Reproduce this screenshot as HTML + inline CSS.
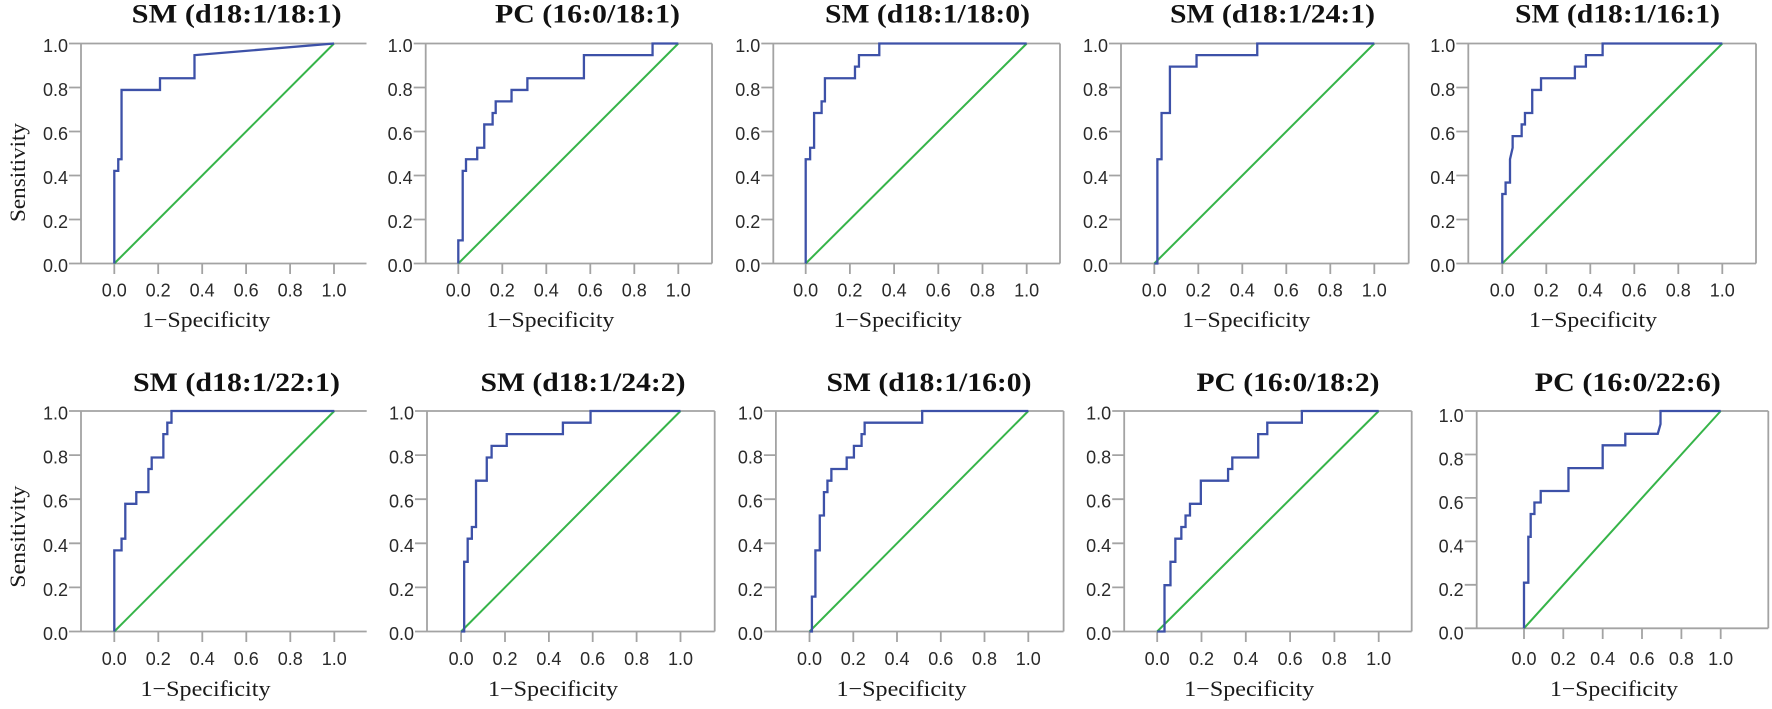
<!DOCTYPE html>
<html><head><meta charset="utf-8">
<style>
html,body{margin:0;padding:0;background:#fff;}
svg{display:block;}
.ax{stroke:#a3a3a3;stroke-width:1.8;fill:none;}
.g{stroke:#36b449;stroke-width:2;fill:none;}
.b{stroke:#3d51a8;stroke-width:2.3;fill:none;stroke-linejoin:miter;}
.yl{font-family:"Liberation Sans",Arial,sans-serif;font-size:18px;fill:#2a2a2a;text-anchor:end;}
.xl{font-family:"Liberation Sans",Arial,sans-serif;font-size:18px;fill:#2a2a2a;text-anchor:middle;}
.ti{font-family:"Liberation Serif","Times New Roman",serif;font-weight:bold;font-size:26px;fill:#111;text-anchor:middle;}
.lb{font-family:"Liberation Serif","Times New Roman",serif;font-size:22px;fill:#1a1a1a;text-anchor:middle;}
</style></head>
<body>
<svg width="1772" height="709" viewBox="0 0 1772 709" xmlns="http://www.w3.org/2000/svg">

<!-- ================= ROW 1 ================= -->
<!-- P1 -->
<g>
<path class="ax" d="M69 43.5H366.5M69 263.5H366.5M81 43.5V263.5M69 87.5H81M69 131.5H81M69 175.5H81M69 219.5H81"/>
<path class="ax" d="M114.3 264V274M158.2 264V274M202.2 264V274M246.1 264V274M290.1 264V274M334 264V274"/>
<line class="g" x1="114.3" y1="263.5" x2="334" y2="43.5"/>
<g transform="translate(114.3,263.5) scale(219.7,-220)"><polyline class="b" vector-effect="non-scaling-stroke" points="0,0 0,0.421 0.018,0.421 0.018,0.474 0.033,0.474 0.033,0.789 0.208,0.789 0.208,0.842 0.365,0.842 0.365,0.947 1,1"/></g>
<text class="yl" x="68" y="52">1.0</text><text class="yl" x="68" y="96">0.8</text><text class="yl" x="68" y="140">0.6</text><text class="yl" x="68" y="184">0.4</text><text class="yl" x="68" y="228">0.2</text><text class="yl" x="68" y="272">0.0</text>
<text class="xl" x="114.3" y="296.5">0.0</text><text class="xl" x="158.2" y="296.5">0.2</text><text class="xl" x="202.2" y="296.5">0.4</text><text class="xl" x="246.1" y="296.5">0.6</text><text class="xl" x="290.1" y="296.5">0.8</text><text class="xl" x="334" y="296.5">1.0</text>
<text class="ti" x="236.7" y="22.5" textLength="210" lengthAdjust="spacingAndGlyphs">SM (d18:1/18:1)</text>
<text class="lb" x="206.3" y="327" textLength="128" lengthAdjust="spacingAndGlyphs">1−Specificity</text>
<text class="lb" transform="translate(25,172.5) rotate(-90)" x="0" y="0" textLength="99" lengthAdjust="spacingAndGlyphs">Sensitivity</text>
</g>

<!-- P2 -->
<g>
<path class="ax" d="M413.7 43.5H712M413.7 263.5H712M425.7 43.5V263.5M712 43.5V263.5M413.7 87.5H425.7M413.7 131.5H425.7M413.7 175.5H425.7M413.7 219.5H425.7"/>
<path class="ax" d="M458.3 264V274M502.3 264V274M546.3 264V274M590.3 264V274M634.3 264V274M678.3 264V274"/>
<line class="g" x1="458.3" y1="263.5" x2="678.3" y2="43.5"/>
<g transform="translate(458.3,263.5) scale(220,-220)"><polyline class="b" vector-effect="non-scaling-stroke" points="0,0 0,0.105 0.02,0.105 0.02,0.421 0.035,0.421 0.035,0.474 0.086,0.474 0.086,0.526 0.118,0.526 0.118,0.632 0.156,0.632 0.156,0.684 0.17,0.684 0.17,0.737 0.242,0.737 0.242,0.789 0.314,0.789 0.314,0.842 0.571,0.842 0.571,0.947 0.883,0.947 0.883,1 1,1"/></g>
<text class="yl" x="412.7" y="52">1.0</text><text class="yl" x="412.7" y="96">0.8</text><text class="yl" x="412.7" y="140">0.6</text><text class="yl" x="412.7" y="184">0.4</text><text class="yl" x="412.7" y="228">0.2</text><text class="yl" x="412.7" y="272">0.0</text>
<text class="xl" x="458.3" y="296.5">0.0</text><text class="xl" x="502.3" y="296.5">0.2</text><text class="xl" x="546.3" y="296.5">0.4</text><text class="xl" x="590.3" y="296.5">0.6</text><text class="xl" x="634.3" y="296.5">0.8</text><text class="xl" x="678.3" y="296.5">1.0</text>
<text class="ti" x="587.5" y="22.5" textLength="185" lengthAdjust="spacingAndGlyphs">PC (16:0/18:1)</text>
<text class="lb" x="550.3" y="327" textLength="128" lengthAdjust="spacingAndGlyphs">1−Specificity</text>
</g>

<!-- P3 -->
<g>
<path class="ax" d="M761.3 43.5H1060M761.3 263.5H1060M773.3 43.5V263.5M1060 43.5V263.5M761.3 87.5H773.3M761.3 131.5H773.3M761.3 175.5H773.3M761.3 219.5H773.3"/>
<path class="ax" d="M805.7 264V274M849.9 264V274M894.1 264V274M938.3 264V274M982.5 264V274M1026.7 264V274"/>
<line class="g" x1="805.7" y1="263.5" x2="1026.7" y2="43.5"/>
<g transform="translate(805.7,263.5) scale(221,-220)"><polyline class="b" vector-effect="non-scaling-stroke" points="0,0 0,0.474 0.02,0.474 0.02,0.526 0.038,0.526 0.038,0.684 0.072,0.684 0.072,0.737 0.087,0.737 0.087,0.842 0.223,0.842 0.223,0.895 0.241,0.895 0.241,0.947 0.333,0.947 0.333,1 1,1"/></g>
<text class="yl" x="760.3" y="52">1.0</text><text class="yl" x="760.3" y="96">0.8</text><text class="yl" x="760.3" y="140">0.6</text><text class="yl" x="760.3" y="184">0.4</text><text class="yl" x="760.3" y="228">0.2</text><text class="yl" x="760.3" y="272">0.0</text>
<text class="xl" x="805.7" y="296.5">0.0</text><text class="xl" x="849.9" y="296.5">0.2</text><text class="xl" x="894.1" y="296.5">0.4</text><text class="xl" x="938.3" y="296.5">0.6</text><text class="xl" x="982.5" y="296.5">0.8</text><text class="xl" x="1026.7" y="296.5">1.0</text>
<text class="ti" x="927.5" y="22.5" textLength="205" lengthAdjust="spacingAndGlyphs">SM (d18:1/18:0)</text>
<text class="lb" x="897.7" y="327" textLength="128" lengthAdjust="spacingAndGlyphs">1−Specificity</text>
</g>

<!-- P4 -->
<g>
<path class="ax" d="M1109 43.5H1408.7M1109 263.5H1408.7M1121 43.5V263.5M1408.7 43.5V263.5M1109 87.5H1121M1109 131.5H1121M1109 175.5H1121M1109 219.5H1121"/>
<path class="ax" d="M1154.3 264V274M1198.3 264V274M1242.3 264V274M1286.3 264V274M1330.3 264V274M1374.3 264V274"/>
<line class="g" x1="1154.3" y1="263.5" x2="1374.3" y2="43.5"/>
<g transform="translate(1154.3,263.5) scale(220,-220)"><polyline class="b" vector-effect="non-scaling-stroke" points="0,0 0.014,0 0.014,0.474 0.033,0.474 0.033,0.684 0.071,0.684 0.071,0.895 0.192,0.895 0.192,0.947 0.468,0.947 0.468,1 1,1"/></g>
<text class="yl" x="1108" y="52">1.0</text><text class="yl" x="1108" y="96">0.8</text><text class="yl" x="1108" y="140">0.6</text><text class="yl" x="1108" y="184">0.4</text><text class="yl" x="1108" y="228">0.2</text><text class="yl" x="1108" y="272">0.0</text>
<text class="xl" x="1154.3" y="296.5">0.0</text><text class="xl" x="1198.3" y="296.5">0.2</text><text class="xl" x="1242.3" y="296.5">0.4</text><text class="xl" x="1286.3" y="296.5">0.6</text><text class="xl" x="1330.3" y="296.5">0.8</text><text class="xl" x="1374.3" y="296.5">1.0</text>
<text class="ti" x="1272.5" y="22.5" textLength="205" lengthAdjust="spacingAndGlyphs">SM (d18:1/24:1)</text>
<text class="lb" x="1246.3" y="327" textLength="128" lengthAdjust="spacingAndGlyphs">1−Specificity</text>
</g>

<!-- P5 -->
<g>
<path class="ax" d="M1456.3 43.5H1756M1456.3 263.5H1756M1468.3 43.5V263.5M1756 43.5V263.5M1456.3 87.5H1468.3M1456.3 131.5H1468.3M1456.3 175.5H1468.3M1456.3 219.5H1468.3"/>
<path class="ax" d="M1502.3 264V274M1546.3 264V274M1590.3 264V274M1634.3 264V274M1678.3 264V274M1722.3 264V274"/>
<line class="g" x1="1502.3" y1="263.5" x2="1722.3" y2="43.5"/>
<g transform="translate(1502.3,263.5) scale(220,-220)"><polyline class="b" vector-effect="non-scaling-stroke" points="0,0 0,0.316 0.015,0.316 0.015,0.368 0.035,0.368 0.035,0.474 0.047,0.526 0.047,0.579 0.088,0.579 0.088,0.632 0.103,0.632 0.103,0.684 0.136,0.684 0.136,0.789 0.176,0.789 0.176,0.842 0.33,0.842 0.33,0.895 0.38,0.895 0.38,0.947 0.456,0.947 0.456,1 1,1"/></g>
<text class="yl" x="1455.3" y="52">1.0</text><text class="yl" x="1455.3" y="96">0.8</text><text class="yl" x="1455.3" y="140">0.6</text><text class="yl" x="1455.3" y="184">0.4</text><text class="yl" x="1455.3" y="228">0.2</text><text class="yl" x="1455.3" y="272">0.0</text>
<text class="xl" x="1502.3" y="296.5">0.0</text><text class="xl" x="1546.3" y="296.5">0.2</text><text class="xl" x="1590.3" y="296.5">0.4</text><text class="xl" x="1634.3" y="296.5">0.6</text><text class="xl" x="1678.3" y="296.5">0.8</text><text class="xl" x="1722.3" y="296.5">1.0</text>
<text class="ti" x="1617.5" y="22.5" textLength="205" lengthAdjust="spacingAndGlyphs">SM (d18:1/16:1)</text>
<text class="lb" x="1593" y="327" textLength="128" lengthAdjust="spacingAndGlyphs">1−Specificity</text>
</g>

<!-- ================= ROW 2 ================= -->
<!-- P6 -->
<g>
<path class="ax" d="M69 411H366.7M69 631.5H366.7M81 411V631.5M69 455.1H81M69 499.2H81M69 543.3H81M69 587.4H81"/>
<path class="ax" d="M114.3 632V642M158.3 632V642M202.3 632V642M246.3 632V642M290.3 632V642M334.3 632V642"/>
<line class="g" x1="114.3" y1="631.5" x2="334.3" y2="411"/>
<g transform="translate(114.3,631.5) scale(220,-220.5)"><polyline class="b" vector-effect="non-scaling-stroke" points="0,0 0,0.368 0.033,0.368 0.033,0.421 0.05,0.421 0.05,0.579 0.1,0.579 0.1,0.632 0.155,0.632 0.155,0.737 0.17,0.737 0.17,0.789 0.223,0.789 0.223,0.895 0.241,0.895 0.241,0.947 0.26,0.947 0.26,1 1,1"/></g>
<text class="yl" x="68" y="419.5">1.0</text><text class="yl" x="68" y="463.6">0.8</text><text class="yl" x="68" y="507.7">0.6</text><text class="yl" x="68" y="551.8">0.4</text><text class="yl" x="68" y="595.9">0.2</text><text class="yl" x="68" y="640">0.0</text>
<text class="xl" x="114.3" y="664.8">0.0</text><text class="xl" x="158.3" y="664.8">0.2</text><text class="xl" x="202.3" y="664.8">0.4</text><text class="xl" x="246.3" y="664.8">0.6</text><text class="xl" x="290.3" y="664.8">0.8</text><text class="xl" x="334.3" y="664.8">1.0</text>
<text class="ti" x="236.5" y="391" textLength="207" lengthAdjust="spacingAndGlyphs">SM (d18:1/22:1)</text>
<text class="lb" x="205.5" y="696" textLength="130" lengthAdjust="spacingAndGlyphs">1−Specificity</text>
<text class="lb" transform="translate(25,536.7) rotate(-90)" x="0" y="0" textLength="102" lengthAdjust="spacingAndGlyphs">Sensitivity</text>
</g>

<!-- P7 -->
<g>
<path class="ax" d="M415 411H714.7M415 631.5H714.7M427 411V631.5M714.7 411V631.5M415 455.1H427M415 499.2H427M415 543.3H427M415 587.4H427"/>
<path class="ax" d="M461.1 632V642M505 632V642M548.9 632V642M592.7 632V642M636.6 632V642M680.5 632V642"/>
<line class="g" x1="461.1" y1="631.5" x2="680.5" y2="411"/>
<g transform="translate(461.1,631.5) scale(219.4,-220.5)"><polyline class="b" vector-effect="non-scaling-stroke" points="0,0 0.014,0 0.014,0.316 0.03,0.316 0.03,0.421 0.049,0.421 0.049,0.474 0.068,0.474 0.068,0.684 0.117,0.684 0.117,0.789 0.139,0.789 0.139,0.842 0.208,0.842 0.208,0.895 0.464,0.895 0.464,0.947 0.59,0.947 0.59,1 1,1"/></g>
<text class="yl" x="414" y="419.5">1.0</text><text class="yl" x="414" y="463.6">0.8</text><text class="yl" x="414" y="507.7">0.6</text><text class="yl" x="414" y="551.8">0.4</text><text class="yl" x="414" y="595.9">0.2</text><text class="yl" x="414" y="640">0.0</text>
<text class="xl" x="461.1" y="664.8">0.0</text><text class="xl" x="505" y="664.8">0.2</text><text class="xl" x="548.9" y="664.8">0.4</text><text class="xl" x="592.7" y="664.8">0.6</text><text class="xl" x="636.6" y="664.8">0.8</text><text class="xl" x="680.5" y="664.8">1.0</text>
<text class="ti" x="583" y="391" textLength="205" lengthAdjust="spacingAndGlyphs">SM (d18:1/24:2)</text>
<text class="lb" x="553" y="696" textLength="130" lengthAdjust="spacingAndGlyphs">1−Specificity</text>
</g>

<!-- P8 -->
<g>
<path class="ax" d="M763.9 411H1063.6M763.9 631.5H1063.6M775.9 411V631.5M1063.6 411V631.5M763.9 455.1H775.9M763.9 499.2H775.9M763.9 543.3H775.9M763.9 587.4H775.9"/>
<path class="ax" d="M809.5 632V642M853.3 632V642M897 632V642M940.8 632V642M984.5 632V642M1028.3 632V642"/>
<line class="g" x1="809.5" y1="631.5" x2="1028.3" y2="411"/>
<g transform="translate(809.5,631.5) scale(218.8,-220.5)"><polyline class="b" vector-effect="non-scaling-stroke" points="0,0 0.011,0 0.011,0.158 0.027,0.158 0.027,0.368 0.047,0.368 0.047,0.526 0.066,0.526 0.066,0.632 0.082,0.632 0.082,0.684 0.1,0.684 0.1,0.737 0.17,0.737 0.17,0.789 0.203,0.789 0.203,0.842 0.238,0.842 0.238,0.895 0.252,0.895 0.252,0.947 0.515,0.947 0.515,1 1,1"/></g>
<text class="yl" x="762.9" y="419.5">1.0</text><text class="yl" x="762.9" y="463.6">0.8</text><text class="yl" x="762.9" y="507.7">0.6</text><text class="yl" x="762.9" y="551.8">0.4</text><text class="yl" x="762.9" y="595.9">0.2</text><text class="yl" x="762.9" y="640">0.0</text>
<text class="xl" x="809.5" y="664.8">0.0</text><text class="xl" x="853.3" y="664.8">0.2</text><text class="xl" x="897" y="664.8">0.4</text><text class="xl" x="940.8" y="664.8">0.6</text><text class="xl" x="984.5" y="664.8">0.8</text><text class="xl" x="1028.3" y="664.8">1.0</text>
<text class="ti" x="929" y="391" textLength="205" lengthAdjust="spacingAndGlyphs">SM (d18:1/16:0)</text>
<text class="lb" x="901.5" y="696" textLength="130" lengthAdjust="spacingAndGlyphs">1−Specificity</text>
</g>

<!-- P9 -->
<g>
<path class="ax" d="M1112.2 411H1411.7M1112.2 631.5H1411.7M1124.2 411V631.5M1411.7 411V631.5M1112.2 455.1H1124.2M1112.2 499.2H1124.2M1112.2 543.3H1124.2M1112.2 587.4H1124.2"/>
<path class="ax" d="M1157.2 632V642M1201.5 632V642M1245.8 632V642M1290.1 632V642M1334.4 632V642M1378.7 632V642"/>
<line class="g" x1="1157.2" y1="631.5" x2="1378.7" y2="411"/>
<g transform="translate(1157.2,631.5) scale(221.5,-220.5)"><polyline class="b" vector-effect="non-scaling-stroke" points="0,0 0.033,0 0.033,0.21 0.06,0.21 0.06,0.316 0.082,0.316 0.082,0.421 0.109,0.421 0.109,0.474 0.128,0.474 0.128,0.526 0.148,0.526 0.148,0.579 0.197,0.579 0.197,0.684 0.32,0.684 0.32,0.737 0.339,0.737 0.339,0.789 0.456,0.789 0.456,0.895 0.497,0.895 0.497,0.947 0.653,0.947 0.653,1 1,1"/></g>
<text class="yl" x="1111.2" y="419.5">1.0</text><text class="yl" x="1111.2" y="463.6">0.8</text><text class="yl" x="1111.2" y="507.7">0.6</text><text class="yl" x="1111.2" y="551.8">0.4</text><text class="yl" x="1111.2" y="595.9">0.2</text><text class="yl" x="1111.2" y="640">0.0</text>
<text class="xl" x="1157.2" y="664.8">0.0</text><text class="xl" x="1201.5" y="664.8">0.2</text><text class="xl" x="1245.8" y="664.8">0.4</text><text class="xl" x="1290.1" y="664.8">0.6</text><text class="xl" x="1334.4" y="664.8">0.8</text><text class="xl" x="1378.7" y="664.8">1.0</text>
<text class="ti" x="1288" y="391" textLength="183" lengthAdjust="spacingAndGlyphs">PC (16:0/18:2)</text>
<text class="lb" x="1249.2" y="696" textLength="130" lengthAdjust="spacingAndGlyphs">1−Specificity</text>
</g>

<!-- P10 -->
<g>
<path class="ax" d="M1464.7 411H1768.3M1464.7 628.3H1768.3M1476.7 411V628.3M1768.3 411V628.3M1464.7 454.5H1476.7M1464.7 497.9H1476.7M1464.7 541.4H1476.7M1464.7 584.8H1476.7"/>
<path class="ax" d="M1524 629V639M1563.3 629V639M1602.7 629V639M1642 629V639M1681.4 629V639M1720.7 629V639"/>
<line class="g" x1="1524" y1="628.3" x2="1720.7" y2="411"/>
<g transform="translate(1524,628.3) scale(196.7,-217.3)"><polyline class="b" vector-effect="non-scaling-stroke" points="0,0 0,0.21 0.022,0.21 0.022,0.421 0.034,0.421 0.034,0.526 0.053,0.526 0.053,0.579 0.085,0.579 0.085,0.632 0.226,0.632 0.226,0.737 0.4,0.737 0.4,0.842 0.515,0.842 0.515,0.895 0.68,0.895 0.694,0.94 0.694,1 1,1"/></g>
<text class="yl" x="1463.7" y="422">1.0</text><text class="yl" x="1463.7" y="465.5">0.8</text><text class="yl" x="1463.7" y="508.9">0.6</text><text class="yl" x="1463.7" y="552.4">0.4</text><text class="yl" x="1463.7" y="595.8">0.2</text><text class="yl" x="1463.7" y="639.3">0.0</text>
<text class="xl" x="1524" y="664.8">0.0</text><text class="xl" x="1563.3" y="664.8">0.2</text><text class="xl" x="1602.7" y="664.8">0.4</text><text class="xl" x="1642" y="664.8">0.6</text><text class="xl" x="1681.4" y="664.8">0.8</text><text class="xl" x="1720.7" y="664.8">1.0</text>
<text class="ti" x="1627.8" y="391" textLength="186" lengthAdjust="spacingAndGlyphs">PC (16:0/22:6)</text>
<text class="lb" x="1614" y="696" textLength="128" lengthAdjust="spacingAndGlyphs">1−Specificity</text>
</g>

</svg>
</body></html>
